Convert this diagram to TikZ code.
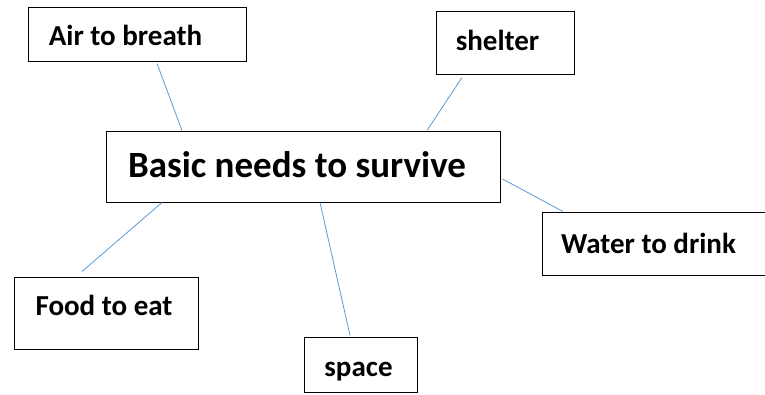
\documentclass[tikz,border=0pt]{standalone}
\usepackage{fontspec}
\setmainfont{Carlito}
\usepackage{xcolor}
\usepackage{tikz}
\definecolor{linkblue}{RGB}{91,155,213}
\tikzstyle{need} = [rectangle, inner sep=0pt, draw=black, line width=1pt]
\tikzstyle{tag} = [inner sep=0pt, font=\fontsize{29}{34}\selectfont\bfseries]
\tikzstyle{coretag} = [inner sep=0pt, font=\fontsize{37}{43}\selectfont\bfseries]
\tikzstyle{link} = [draw=linkblue, line width=0.8pt]

\begin{document}
\begin{tikzpicture}[x=1pt, y=-1pt]
      \useasboundingbox[fill=white] (0,0) rectangle (765,394);
      \node (basic) [need, minimum width=394pt, minimum height=71pt,
        label={[coretag, xshift=-6pt, yshift=2pt]center:Basic needs to survive}] at (303,166.5) {};
      \node (air) [need, minimum width=218pt, minimum height=54pt,
        label={[tag, xshift=-11.5pt, yshift=-1pt]center:Air to breath}] at (137,34) {};
      \node (shelter) [need, minimum width=138pt, minimum height=63pt,
        label={[tag, xshift=-7.5pt, yshift=2pt]center:shelter}] at (505,42.5) {};
      \node (water) [need, minimum width=226pt, minimum height=63pt,
        label={[tag, xshift=-6.5pt]center:Water to drink}] at (655,243.5) {};
      \node (food) [need, minimum width=184pt, minimum height=72pt,
        label={[tag, xshift=-2pt, yshift=8pt]center:Food to eat}] at (106,313) {};
      \node (space) [need, minimum width=113pt, minimum height=55pt,
        label={[tag, xshift=-2pt, yshift=-7pt]center:space}] at (360.5,364.5) {};
      \draw [link] ([xshift=-121pt]basic.north) -- ([xshift=20pt,yshift=-2pt]air.south);
      \draw [link] ([xshift=124pt]basic.north) -- ([xshift=-43pt,yshift=-3pt]shelter.south);
      \draw [link] ([xshift=2pt,yshift=-12.5pt]basic.east) -- ([xshift=-92pt]water.north);
      \draw [link] ([xshift=-141pt]basic.south) -- ([xshift=-24pt,yshift=5pt]food.north);
      \draw [link] ([xshift=17pt]basic.south) -- ([xshift=-10.5pt,yshift=1pt]space.north);
    \end{tikzpicture}
\end{document}
